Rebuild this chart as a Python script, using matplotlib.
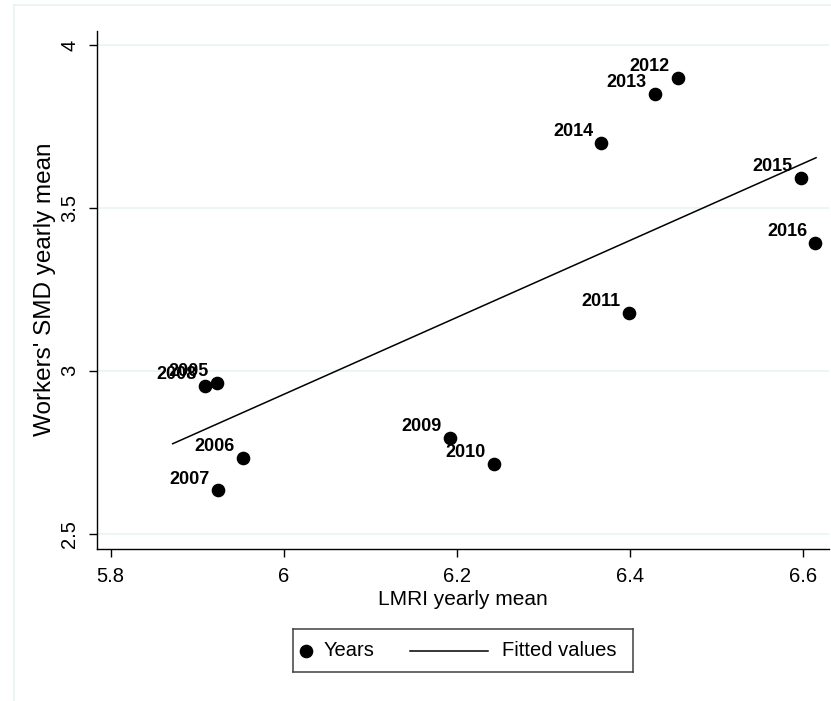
import matplotlib.pyplot as plt
from matplotlib.lines import Line2D
from matplotlib import font_manager

plt.rcParams['font.family'] = ['Liberation Sans', 'DejaVu Sans']

# yearly means
years = ['2005', '2006', '2007', '2008', '2009', '2010',
         '2011', '2012', '2013', '2014', '2015', '2016']
lmri = [5.9224, 5.9532, 5.9243, 5.9089, 6.1919, 6.2431,
        6.3990, 6.4549, 6.4290, 6.3667, 6.5973, 6.6139]
smd = [2.9626, 2.7333, 2.6332, 2.9543, 2.7937, 2.7139,
       3.1783, 3.8996, 3.8505, 3.6992, 3.5927, 3.3932]

# fitted line end points
fit_x = [5.8716, 6.6147]
fit_y = [2.7762, 3.6541]

xticks = [5.8, 6.0, 6.2, 6.4, 6.6]
xticklabels = ['5.8', '6', '6.2', '6.4', '6.6']
yticks = [2.5, 3.0, 3.5, 4.0]
yticklabels = ['2.5', '3', '3.5', '4']

W, H = 831, 701
grid_col = '#eaf2f3'

# condensed bold for the year labels if available
names = {f.name for f in font_manager.fontManager.ttflist}
if 'Liberation Sans Narrow' in names:
    lab_font, lab_size = 'Liberation Sans Narrow', 15
else:
    lab_font, lab_size = 'Liberation Sans', 13

fig = plt.figure(figsize=(W / 100, H / 100), dpi=100)
fig.patch.set_facecolor('white')

# light outer frame of the graph region
fig.add_artist(Line2D([14 / W, 1], [1 - 5 / H, 1 - 5 / H], color=grid_col, lw=1.2))
fig.add_artist(Line2D([14 / W, 14 / W], [0, 1 - 5 / H], color=grid_col, lw=1.2))

ax = fig.add_axes([97.3 / W, 1 - 548.7 / H, (829.3 - 97.3) / W, (548.7 - 30.7) / H])
ax.set_xlim(5.7845, 6.630)
ax.set_ylim(2.454, 4.044)

for yv in yticks:
    ax.axhline(yv, color=grid_col, lw=1.1, zorder=0)

ax.plot(fit_x, fit_y, color='black', lw=1.1, zorder=2)
ax.plot(lmri, smd, 'o', color='black', ms=8.8, zorder=3)

for yr, xv, yv in zip(years, lmri, smd):
    ax.annotate(yr, (xv, yv), xytext=(-6, 8), textcoords='offset points',
                ha='right', va='center', fontsize=lab_size, fontweight='bold',
                family=[lab_font, 'DejaVu Sans'])

for side in ['top', 'right']:
    ax.spines[side].set_visible(False)
for side in ['left', 'bottom']:
    ax.spines[side].set_linewidth(1.0)

ax.set_xticks(xticks)
ax.set_xticklabels(xticklabels, fontsize=14.5)
ax.set_yticks(yticks)
ax.set_yticklabels(yticklabels, fontsize=14.5, rotation=90, va='center')
ax.tick_params(direction='out', length=6, width=1.0, pad=7)

ax.set_xlabel('LMRI yearly mean', fontsize=15, labelpad=3)
ax.set_ylabel("Workers' SMD yearly mean", fontsize=17.5, labelpad=3)

# legend box below the plot
lax = fig.add_axes([292.7 / W, 1 - 672.3 / H, (633.3 - 292.7) / W, (672.3 - 629) / H])
lax.set_xlim(0, 340.6)
lax.set_ylim(0, 1)
lax.set_xticks([])
lax.set_yticks([])
for sp in lax.spines.values():
    sp.set_color('#404040')
    sp.set_linewidth(1.1)
lax.plot([13.3], [0.5], 'o', color='black', ms=8.8)
lax.text(30.6, 0.5, 'Years', fontsize=14.5, va='center', ha='left')
lax.plot([117, 195], [0.5, 0.5], color='black', lw=1.1)
lax.text(209.8, 0.5, 'Fitted values', fontsize=14.5, va='center', ha='left')

fig.savefig('out.png', dpi=100)
